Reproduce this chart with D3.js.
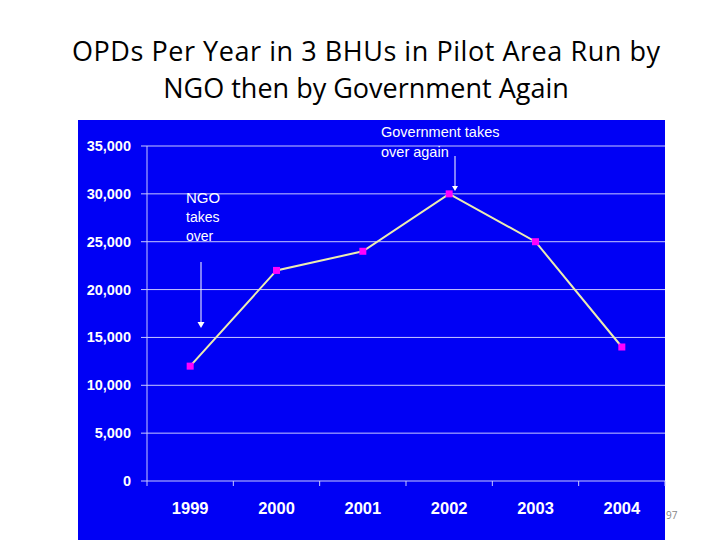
<!DOCTYPE html>
<html>
<head>
<meta charset="utf-8">
<script src="https://cdn.jsdelivr.net/npm/d3@7"></script>
<style>
  body { margin: 0; background: #fff; }
  svg { display: block; }
</style>
</head>
<body>
<svg id="chart" width="720" height="540"></svg>
<script>
const years = ['1999', '2000', '2001', '2002', '2003', '2004'];
const opds = [12000, 22000, 24000, 30000, 25000, 14000];
const yTicks = [0, 5000, 10000, 15000, 20000, 25000, 30000, 35000];

const svg = d3.select('#chart');

const titleLines = ['OPDs Per Year in 3 BHUs in Pilot Area  Run by', 'NGO then by Government Again'];
titleLines.forEach((t, i) => {
  svg.append('text')
    .attr('x', 366).attr('y', 61 + i * 37)
    .attr('text-anchor', 'middle')
    .attr('font-family', 'Open Sans, sans-serif')
    .attr('font-size', 27)
    .attr('textLength', i === 0 ? 588 : null)
    .attr('fill', '#000')
    .text(t);
});

// blue panel
svg.append('rect')
  .attr('x', 78).attr('y', 120)
  .attr('width', 587).attr('height', 420)
  .attr('fill', '#0000f5');

const margin = { left: 147, top: 146, right: 665, bottom: 481 };

const xScale = d3.scaleBand()
  .domain(years)
  .range([margin.left, margin.right]);

const yScale = d3.scaleLinear()
  .domain([0, 35000])
  .range([margin.bottom, margin.top]);

const g = svg.append('g');

// gridlines
g.selectAll('line.grid').data(yTicks)
  .enter().append('line')
    .attr('x1', margin.left - 6).attr('x2', margin.right)
    .attr('y1', d => yScale(d)).attr('y2', d => yScale(d))
    .attr('stroke', '#c8c8ff')
    .attr('stroke-width', 1);

g.append('line')
  .attr('x1', margin.left).attr('x2', margin.left)
  .attr('y1', margin.top).attr('y2', margin.bottom)
  .attr('stroke', '#c8c8ff');

g.selectAll('line.xt').data(years.concat(['end']))
  .enter().append('line')
    .attr('x1', (d, i) => margin.left + i * xScale.step())
    .attr('x2', (d, i) => margin.left + i * xScale.step())
    .attr('y1', margin.bottom).attr('y2', margin.bottom + 5)
    .attr('stroke', '#c8c8ff');

g.selectAll('text.yl').data(yTicks)
  .enter().append('text')
    .attr('x', 131).attr('y', d => yScale(d) + 5)
    .attr('text-anchor', 'end')
    .attr('font-family', 'Liberation Sans, Arial, sans-serif')
    .attr('font-weight', 'bold')
    .attr('font-size', 14.5)
    .attr('fill', '#fff')
    .text(d => d3.format(',')(d));

g.selectAll('text.xl').data(years)
  .enter().append('text')
    .attr('x', d => xScale(d) + xScale.bandwidth() / 2)
    .attr('y', 514)
    .attr('text-anchor', 'middle')
    .attr('font-family', 'Liberation Sans, Arial, sans-serif')
    .attr('font-weight', 'bold')
    .attr('font-size', 16.5)
    .attr('fill', '#fff')
    .text(d => d);

const cx = d => xScale(d) + xScale.bandwidth() / 2;

const line = d3.line()
  .x((d, i) => cx(years[i]))
  .y(d => yScale(d));

g.append('path')
  .datum(opds)
  .attr('d', line)
  .attr('fill', 'none')
  .attr('stroke', '#ecec b0'.replace(' ', ''))
  .attr('stroke-width', 2);

g.selectAll('rect.pt').data(opds)
  .enter().append('rect')
    .attr('x', (d, i) => cx(years[i]) - 3.5)
    .attr('y', d => yScale(d) - 3.5)
    .attr('width', 7).attr('height', 7)
    .attr('fill', '#ff00ff');

// annotations
const ann = svg.append('g')
  .attr('font-family', 'Liberation Sans, Arial, sans-serif')
  .attr('fill', '#fff');

['NGO', 'takes', 'over'].forEach((t, i) => {
  ann.append('text')
    .attr('x', 186).attr('y', 203 + i * 19)
    .attr('font-size', i === 0 ? 15 : 14)
    .attr('fill', '#fff')
    .text(t);
});
ann.append('line')
  .attr('x1', 201).attr('x2', 201).attr('y1', 262).attr('y2', 322)
  .attr('stroke', '#fff');
ann.append('path')
  .attr('d', 'M197.5,322 L204.5,322 L201,328 Z')
  .attr('fill', '#fff');

['Government takes', 'over again'].forEach((t, i) => {
  ann.append('text')
    .attr('x', 381).attr('y', 137 + i * 20)
    .attr('font-size', 14.5)
    .attr('fill', '#fff')
    .text(t);
});
ann.append('line')
  .attr('x1', 455).attr('x2', 455).attr('y1', 156).attr('y2', 186)
  .attr('stroke', '#fff');
ann.append('path')
  .attr('d', 'M452,186 L458,186 L455,191 Z')
  .attr('fill', '#fff');

svg.append('text')
  .attr('x', 666).attr('y', 519)
  .attr('font-family', 'Open Sans, sans-serif')
  .attr('font-size', 10)
  .attr('fill', '#888')
  .text('97');
</script>
</body>
</html>
